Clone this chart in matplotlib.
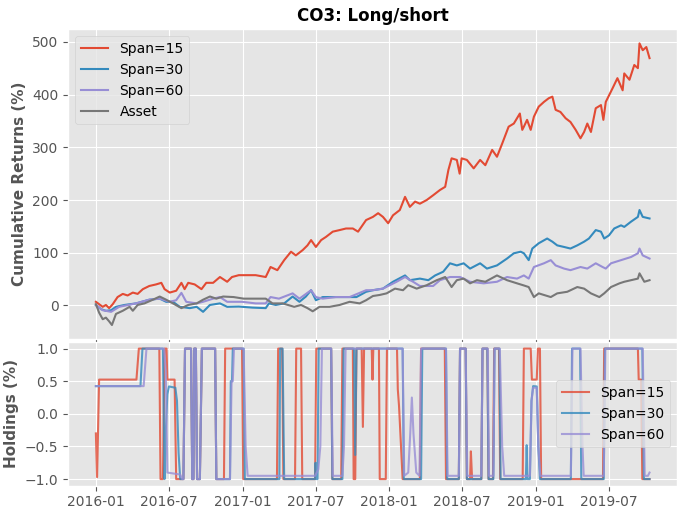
import matplotlib
matplotlib.use("Agg")
import matplotlib.pyplot as plt
import matplotlib.dates as mdates
import numpy as np
import pandas as pd

plt.style.use("ggplot")

START = pd.Timestamp("2016-01-01")

# ---------------- cumulative returns (days since 2016-01-01, %) ----------------
span15_days = [0, 8, 17, 25, 33, 42, 54, 67, 79, 92, 104, 117, 133, 150, 163, 171, 184, 200, 213, 221, 230,
               246, 263, 275, 292, 309, 327, 339, 356, 381, 398, 423, 435, 452, 469, 486, 498, 515, 527,
               536, 548, 561, 573, 590, 607, 623, 640, 653, 673, 690, 703, 715, 728, 740, 757, 770, 782,
               795, 807, 824, 840, 857, 870, 878, 886, 899, 906, 911, 924, 941, 957, 970, 987, 999, 1012,
               1028, 1041, 1056, 1062, 1066, 1074, 1083, 1091, 1103, 1116, 1128, 1137, 1145, 1157, 1170,
               1182, 1195, 1207, 1216, 1224, 1233, 1245, 1258, 1264, 1270, 1287, 1299, 1312, 1316, 1329,
               1341, 1350, 1354, 1362, 1371, 1379]
span15_ret = [7, 2.5, -2.5, 1, -5, 2.5, 16, 22, 19, 24.5, 22, 31, 37, 40, 43, 31, 24.5, 28, 43, 31, 43,
              40, 31, 43, 43, 54, 45, 54, 57.5, 57.5, 57.5, 54, 73, 67, 86, 102, 95, 105, 114,
              124, 111, 124, 130, 140, 143, 146, 146, 140, 162, 168, 175, 168, 156, 171, 181, 206, 187,
              197, 193, 200, 209, 219, 225, 257, 279, 276, 250, 279, 276, 260, 276, 266, 295, 282, 307,
              339, 345, 364, 333, 339, 352, 333, 358, 377, 386, 393, 396, 371, 367, 355,
              348, 333, 317, 329, 345, 329, 374, 380, 352, 386, 412, 431, 408, 440, 428,
              456, 450, 497, 484, 490, 469]

span30_days = [0, 13, 25, 38, 50, 71, 100, 133, 159, 175, 192, 209, 234, 251, 267, 284, 309, 327, 356, 390,
               423, 431, 448, 469, 490, 507, 523, 536, 548, 565, 590, 615, 649, 673, 690, 715, 740, 770,
               782, 807, 828, 845, 865, 882, 899, 916, 932, 957, 974, 999, 1024, 1041, 1058, 1066, 1078,
               1087, 1103, 1124, 1137, 1149, 1166, 1182, 1199, 1216, 1228, 1245, 1258, 1266, 1278, 1291,
               1308, 1316, 1333, 1350, 1354, 1362, 1379]
span30_ret = [1, -7, -10, -9, -2.5, 1, 4, 11, 13, 7, 7, -2.5, -5, -2.5, -12, 1, 4, -2.5, -2, -4,
              -5, 4, 1, 4, 17, 7, 17, 29, 10, 16, 16, 16, 16, 26, 29, 32, 45, 57,
              48, 51, 48, 57, 64, 80, 76, 80, 70, 80, 70, 76, 89, 99, 102, 99, 86,
              108, 118, 127, 121, 114, 111, 108, 114, 121, 127, 143, 140, 127, 133, 146,
              152, 149, 159, 168, 181, 168, 165]

span60_days = [0, 17, 38, 58, 100, 133, 159, 184, 200, 213, 225, 251, 267, 292, 309, 327, 364, 398, 423,
               435, 456, 490, 507, 536, 548, 565, 598, 632, 673, 690, 715, 749, 770, 790, 807, 840, 857,
               882, 907, 932, 966, 999, 1024, 1049, 1066, 1078, 1091, 1116, 1133, 1145, 1166, 1182, 1207,
               1224, 1245, 1262, 1270, 1283, 1308, 1333, 1350, 1354, 1362, 1379]
span60_ret = [1, -9, -12, -2.5, 4, 11, 13, 7, 10, 24, 7, 4, 7, 13, 16, 7, 7, 4, 4,
              16, 13, 23, 13, 29, 16, 13, 16, 16, 29, 29, 32, 45, 54, 45, 37, 37, 48,
              54, 54, 45, 42, 45, 54, 51, 57, 51, 73, 80, 86, 76, 70, 67, 73,
              70, 80, 73, 70, 80, 86, 92, 99, 108, 95, 89]

asset_days = [0, 8, 17, 25, 33, 40, 50, 67, 84, 92, 104, 121, 142, 159, 175, 192, 213, 230, 251, 267, 284,
              300, 317, 343, 368, 423, 440, 465, 494, 511, 527, 540, 557, 582, 607, 632, 657, 673, 690,
              707, 724, 745, 765, 778, 799, 824, 849, 870, 886, 899, 916, 932, 949, 970, 999, 1024, 1049,
              1066, 1078, 1091, 1103, 1133, 1149, 1174, 1199, 1216, 1233, 1254, 1266, 1283, 1304, 1316,
              1333, 1350, 1354, 1366, 1379]
asset_ret = [2.5, -13.5, -26, -23, -30, -37, -16, -10, -2.5, -10, 1, 4, 11, 17, 11, 4, -5, 1, 4, 11, 17,
             13, 17, 16, 13, 13, 4, 4, -2.5, 1, -5, -11, -2.5, -2.5, 1, 7, 4, 10, 18,
             20, 23, 32, 29, 38.5, 32, 38.5, 48, 54, 35, 48, 51, 42, 48, 45, 57, 48, 42,
             38, 35, 16, 23, 16, 23, 26, 35, 32, 23, 16, 23, 35, 42, 45,
             48, 51, 61, 45, 48]

# ---------------- holdings (days since 2016-01-01, fraction) ----------------
hold15_days = [0, 3, 8, 101, 107, 158, 161, 167, 171, 176, 178, 196, 200, 218, 222, 237, 240, 243, 245,
               249, 252, 259, 264, 297, 300, 319, 322, 364, 367, 451, 454, 464, 467, 496, 499, 511, 514,
               546, 549, 586, 589, 611, 614, 640, 642, 646, 649, 662, 665, 668, 687, 689, 691, 705, 707,
               722, 725, 750, 752, 755, 764, 807, 810, 869, 872, 904, 907, 921, 924, 932, 934, 937, 960,
               963, 975, 978, 989, 992, 1004, 1007, 1063, 1066, 1083, 1086, 1098, 1101, 1106, 1109, 1263,
               1266, 1350, 1352, 1358, 1361, 1379]
hold15_val = [-0.3, -0.97, 0.525, 0.525, 1, 1, -1, -1, 1, 1, 0.525, 0.525, -1, -1, 1, 1, -1, -1, 1,
              1, -1, -1, 1, 1, -1, -1, 1, 1, -1, -1, 1, 1, -1, -1, 1, 1, -1,
              -1, 1, 1, -1, -1, 1, 1, -1, -1, 1, 1, -0.2, 1, 1, 0.525, 1, 1, -1,
              -1, 1, 1, 0.375, 0.125, -1, -1, 1, 1, -1, -1, 1, 1, -1, -1, -0.575, -1, -1,
              1, 1, -1, -1, 1, 1, -1, -1, 1, 1, 0.525, 0.525, 1, 1, -1, -1,
              1, 1, 0.525, 0.525, -1, -1]

hold30_days = [0, 111, 116, 167, 171, 174, 178, 182, 198, 202, 206, 210, 218, 222, 237, 240, 243, 245,
               249, 252, 259, 264, 297, 300, 334, 336, 339, 341, 368, 371, 457, 459, 465, 469, 546, 547,
               549, 552, 555, 586, 589, 614, 617, 643, 646, 649, 764, 767, 810, 813, 872, 875, 904, 907,
               921, 924, 960, 963, 975, 978, 990, 993, 1005, 1008, 1071, 1073, 1075, 1081, 1085, 1089,
               1098, 1102, 1106, 1183, 1186, 1206, 1209, 1265, 1268, 1361, 1365, 1379]
hold30_val = [0.425, 0.425, 1, 1, -1, -0.3, 0.3, 0.42, 0.4, 0.2, -0.6, -1, -1, 1, 1, -1, -1, 1,
              1, -1, -1, 1, 1, -1, -1, 0.5, 0.5, 1, 1, -1, -1, 1, 1, -1, -1, -0.75,
              -1, -1, 1, 1, -1, -1, 1, 1, -0.63, 1, 1, -1, -1, 1, 1, -1, -1, 1,
              1, -1, -1, 1, 1, -1, -1, 1, 1, -1, -1, -0.48, -1, -1, 0.2, 0.425,
              0.42, -0.5, -1, -1, 1, 1, -1, -1, 1, 1, -1, -1]

hold60_days = [0, 119, 126, 170, 174, 178, 210, 215, 218, 222, 237, 240, 243, 245, 249, 252, 259, 264,
               297, 300, 334, 338, 341, 344, 368, 373, 378, 546, 554, 559, 563, 586, 590, 614, 618, 622,
               764, 768, 778, 783, 787, 791, 798, 806, 810, 872, 876, 904, 907, 921, 925, 960, 963, 976,
               979, 990, 993, 1006, 1012, 1017, 1081, 1085, 1089, 1098, 1102, 1107, 1183, 1187, 1207,
               1212, 1215, 1265, 1269, 1362, 1367, 1375, 1379]
hold60_val = [0.425, 0.425, 1, 1, 0.65, -0.9, -0.93, -1, -1, 1, 1, -1, -1, 1, 1, -1, -1, 1,
              1, -1, -1, 0.5, 0.5, 1, 1, -0.5, -0.95, -0.95, -0.85, -0.5, 1, 1, -0.95, -0.95, -0.5, 1,
              1, -0.95, -0.9, -0.3, 0.25, -0.3, -0.9, -0.95, 1, 1, -0.95, -0.95, 1, 1, -0.95, -0.95, 1, 1,
              -0.95, -0.95, 1, 1, -0.5, -0.95, -0.95, 0.2, 0.4, 0.4, -0.5, -0.95, -0.95, 1, 1,
              -0.5, -0.95, -0.95, 1, 1, -0.95, -0.95, -0.9]

labels = ["Span=15", "Span=30", "Span=60", "Asset"]
colors = ["#E24A33", "#348ABD", "#988ED5", "#777777"]


def to_dates(days):
    return START + pd.to_timedelta(np.asarray(days), unit="D")


fig = plt.figure(figsize=(6.82, 5.11), dpi=100)
gs = fig.add_gridspec(2, 1, height_ratios=[310, 143.6], left=0.1, right=0.993,
                      top=0.9427, bottom=0.0497, hspace=0.0132)
ax1 = fig.add_subplot(gs[0])
ax2 = fig.add_subplot(gs[1], sharex=ax1)

ret_series = [(span15_days, span15_ret), (span30_days, span30_ret),
              (span60_days, span60_ret), (asset_days, asset_ret)]
for (d, v), lab, c in zip(ret_series, labels, colors):
    ax1.plot(to_dates(d), v, color=c, lw=1.5, label=lab)
ax1.set_ylabel("Cumulative Returns (%)", fontweight="bold", fontsize=11)
ax1.set_title("CO3: Long/short", fontweight="bold", fontsize=12)
ax1.legend(loc="upper left", fontsize=10)
plt.setp(ax1.get_xticklabels(), visible=False)

hold_series = [(hold15_days, hold15_val), (hold30_days, hold30_val), (hold60_days, hold60_val)]
for (d, v), lab, c in zip(hold_series, labels[:3], colors[:3]):
    ax2.plot(to_dates(d), v, color=c, lw=1.5, alpha=0.8, label=lab)
ax2.set_ylabel("Holdings (%)", fontweight="bold", fontsize=11)
ax2.legend(loc="center right", fontsize=10)
ax2.xaxis.set_major_locator(mdates.MonthLocator(bymonth=[1, 7]))
ax2.xaxis.set_major_formatter(mdates.DateFormatter("%Y-%m"))

fig.savefig("out.png", dpi=100)
